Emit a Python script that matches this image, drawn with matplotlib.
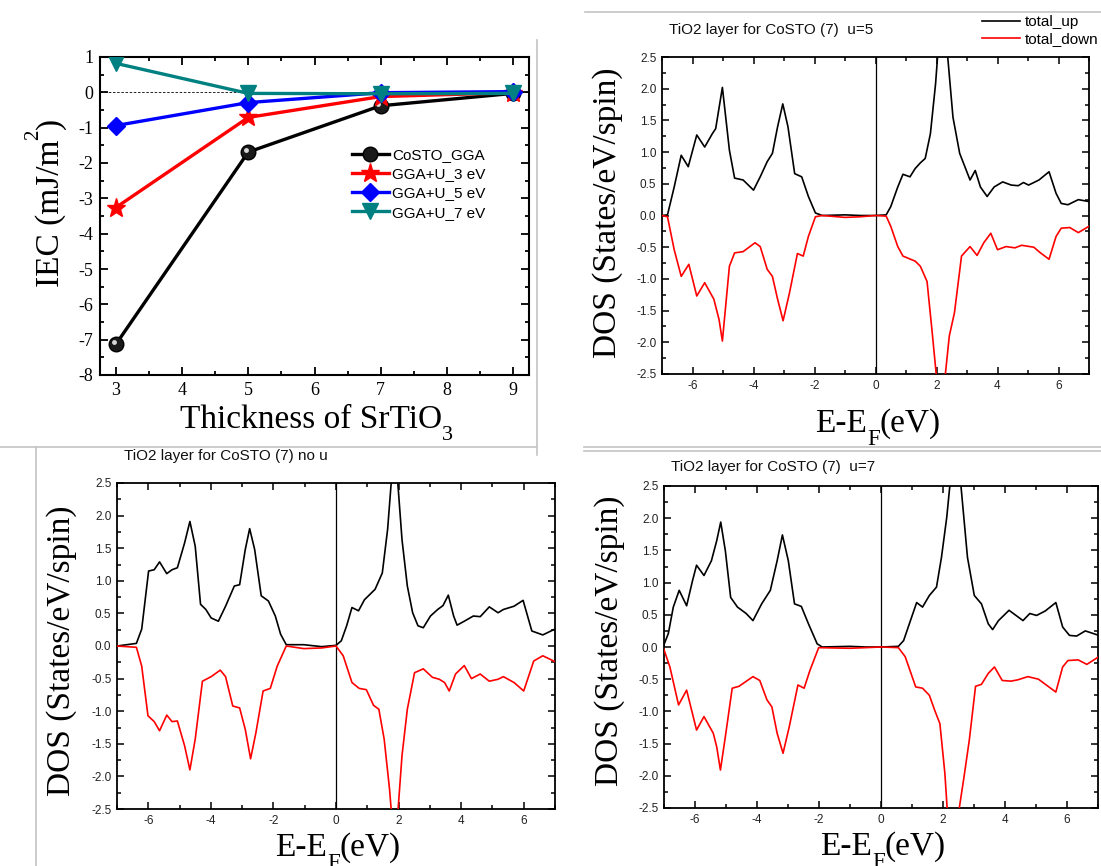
import matplotlib
matplotlib.use("Agg")
import matplotlib.pyplot as plt
from matplotlib.lines import Line2D
from matplotlib.ticker import MultipleLocator, FormatStrFormatter
import matplotlib.transforms as mtransforms

plt.rcParams['axes.unicode_minus'] = False

W, H = 1101, 866

# ---------------- IEC data ----------------
thickness = [3, 5, 7, 9]
iec_gga = [-7.13, -1.69, -0.38, -0.03]
iec_u3 = [-3.26, -0.71, -0.12, -0.01]
iec_u5 = [-0.94, -0.29, -0.01, 0.02]
iec_u7 = [0.82, -0.03, -0.04, -0.03]

# ---------------- DOS data (u=5) ----------------
e_u5_up = [-7.0, -6.82, -6.6, -6.37, -6.14, -5.86, -5.6, -5.35, -5.24, -5.02, -4.79, -4.62, -4.34, -4.0,
           -3.78, -3.55, -3.38, -3.21, -3.04, -2.87, -2.65, -2.42, -2.2, -1.97, -1.75, -1.0, -0.5, 0.0,
           0.35, 0.5, 0.73, 0.9, 1.13, 1.3, 1.47, 1.63, 1.8, 1.97, 2.05, 2.2, 2.35, 2.54, 2.76, 2.93,
           3.1, 3.27, 3.44, 3.66, 3.89, 4.17, 4.45, 4.68, 4.85, 5.02, 5.36, 5.69, 5.92, 6.09, 6.31,
           6.65, 7.0]
dos_u5_up = [0.0, 0.01, 0.45, 0.95, 0.77, 1.27, 1.08, 1.29, 1.37, 2.02, 1.03, 0.59, 0.56, 0.40,
             0.61, 0.85, 0.98, 1.40, 1.76, 1.40, 0.66, 0.61, 0.30, 0.04, 0.0, 0.01, 0.0, 0.0,
             0.01, 0.14, 0.45, 0.65, 0.61, 0.74, 0.83, 0.90, 1.29, 2.08, 2.6, 3.5, 2.6, 1.55, 0.98, 0.77,
             0.56, 0.71, 0.45, 0.30, 0.45, 0.53, 0.48, 0.47, 0.52, 0.48, 0.56, 0.69, 0.35, 0.19, 0.17,
             0.25, 0.22]
e_u5_dn = [-7.0, -6.82, -6.6, -6.37, -6.12, -5.86, -5.6, -5.3, -5.13, -5.02, -4.79, -4.62, -4.34, -3.95,
           -3.78, -3.55, -3.38, -3.21, -3.03, -2.82, -2.56, -2.37, -2.2, -1.97, -1.75, -1.0, -0.5, 0.0,
           0.35, 0.5, 0.73, 0.9, 1.3, 1.47, 1.69, 1.86, 2.0, 2.14, 2.28, 2.42, 2.59, 2.82, 3.1, 3.33,
           3.55, 3.78, 4.0, 4.28, 4.57, 4.79, 5.19, 5.41, 5.69, 5.92, 6.09, 6.37, 6.65, 7.0]
dos_u5_dn = [0.0, -0.02, -0.54, -0.96, -0.77, -1.27, -1.06, -1.32, -1.64, -1.98, -0.80, -0.59, -0.57, -0.43,
             -0.49, -0.85, -0.96, -1.32, -1.66, -1.22, -0.60, -0.64, -0.33, -0.02, 0.0, -0.03, -0.02, 0.0,
             -0.01, -0.17, -0.49, -0.64, -0.72, -0.80, -1.04, -1.85, -2.55, -3.2, -2.55, -1.90, -1.53, -0.64,
             -0.49, -0.63, -0.43, -0.28, -0.54, -0.49, -0.51, -0.47, -0.50, -0.59, -0.69, -0.33, -0.20,
             -0.19, -0.27, -0.17]

# ---------------- DOS data (no u) ----------------
e_nou_up = [-7.0, -6.38, -6.21, -5.99, -5.81, -5.64, -5.41, -5.24, -5.07, -4.84, -4.67, -4.5, -4.33, -4.16,
            -3.99, -3.76, -3.53, -3.25, -3.08, -2.9, -2.76, -2.6, -2.39, -2.16, -1.94, -1.77, -1.59, -1.03,
            -0.46, 0.0, 0.17, 0.34, 0.51, 0.72, 0.91, 1.25, 1.48, 1.65, 1.78, 1.87, 1.96, 2.11, 2.28, 2.45,
            2.62, 2.79, 3.02, 3.25, 3.42, 3.59, 3.76, 3.87, 4.1, 4.39, 4.61, 4.9, 5.18, 5.35, 5.69, 5.98,
            6.26, 6.61, 7.0]
dos_nou_up = [0.0, 0.04, 0.26, 1.15, 1.17, 1.29, 1.11, 1.17, 1.20, 1.58, 1.91, 1.53, 0.64, 0.56,
              0.43, 0.38, 0.61, 0.92, 0.94, 1.48, 1.80, 1.48, 0.77, 0.69, 0.46, 0.18, 0.02, 0.02,
              -0.01, 0.01, 0.08, 0.31, 0.59, 0.54, 0.71, 0.87, 1.12, 1.79, 2.6, 3.0, 2.6, 1.63, 0.92, 0.51,
              0.31, 0.28, 0.46, 0.56, 0.62, 0.78, 0.46, 0.32, 0.38, 0.46, 0.45, 0.60, 0.51, 0.56, 0.61, 0.70,
              0.23, 0.17, 0.26]
e_nou_dn = [-7.0, -6.38, -6.21, -6.01, -5.81, -5.64, -5.41, -5.24, -5.07, -4.84, -4.67, -4.5, -4.27, -3.99,
            -3.7, -3.53, -3.3, -3.08, -2.9, -2.73, -2.56, -2.33, -2.1, -1.88, -1.59, -1.03, -0.46, 0.0,
            0.23, 0.51, 0.74, 0.97, 1.2, 1.37, 1.54, 1.71, 1.78, 1.88, 1.97, 2.11, 2.28, 2.51, 2.79, 3.08,
            3.3, 3.47, 3.62, 3.82, 4.1, 4.33, 4.61, 4.9, 5.18, 5.35, 5.69, 6.0, 6.32, 6.61, 7.0]
dos_nou_dn = [0.0, -0.02, -0.31, -1.07, -1.16, -1.30, -1.06, -1.16, -1.15, -1.53, -1.90, -1.43, -0.54, -0.47,
              -0.37, -0.47, -0.92, -0.95, -1.28, -1.73, -1.33, -0.69, -0.65, -0.31, 0.0, -0.04, -0.03, 0.0,
              -0.15, -0.56, -0.65, -0.67, -0.91, -0.97, -1.43, -2.19, -2.6, -3.0, -2.6, -1.68, -0.97, -0.41,
              -0.35, -0.48, -0.51, -0.56, -0.69, -0.43, -0.30, -0.50, -0.43, -0.54, -0.51, -0.47, -0.56,
              -0.69, -0.23, -0.15, -0.24]

# ---------------- DOS data (u=7) ----------------
e_u7_up = [-7.03, -6.86, -6.7, -6.51, -6.27, -6.08, -5.95, -5.71, -5.47, -5.3, -5.17, -5.02, -4.85, -4.63,
           -4.35, -4.13, -3.85, -3.57, -3.35, -3.18, -2.99, -2.79, -2.57, -2.34, -2.06, -1.9, -1.0, -0.5,
           0.0, 0.56, 0.73, 0.95, 1.15, 1.34, 1.56, 1.79, 1.95, 2.12, 2.23, 2.4, 2.57, 2.79, 3.01, 3.24,
           3.46, 3.6, 3.79, 4.13, 4.58, 4.8, 5.02, 5.3, 5.64, 5.86, 6.08, 6.31, 6.59, 7.03]
dos_u7_up = [0.0, 0.21, 0.62, 0.88, 0.64, 1.03, 1.27, 1.11, 1.34, 1.65, 1.94, 1.49, 0.77, 0.62,
             0.52, 0.41, 0.67, 0.88, 1.34, 1.74, 1.34, 0.67, 0.63, 0.36, 0.05, 0.0, 0.01, 0.0,
             0.0, 0.01, 0.10, 0.41, 0.69, 0.62, 0.80, 0.93, 1.39, 2.01, 2.55, 3.3, 2.55, 1.39, 0.80, 0.67,
             0.36, 0.27, 0.41, 0.57, 0.41, 0.52, 0.49, 0.56, 0.69, 0.31, 0.18, 0.17, 0.25, 0.18]
e_u7_dn = [-7.03, -6.81, -6.53, -6.27, -5.95, -5.71, -5.41, -5.3, -5.18, -5.02, -4.8, -4.58, -4.13, -3.91,
           -3.68, -3.52, -3.35, -3.16, -2.96, -2.68, -2.48, -2.29, -2.01, -1.0, -0.5, 0.0, 0.56, 0.78,
           1.12, 1.34, 1.56, 1.73, 1.9, 2.06, 2.14, 2.32, 2.51, 2.68, 2.85, 3.05, 3.24, 3.46, 3.66, 3.91,
           4.19, 4.41, 4.74, 5.08, 5.36, 5.64, 5.86, 6.03, 6.36, 6.64, 7.03]
dos_u7_dn = [0.0, -0.31, -0.90, -0.67, -1.29, -1.08, -1.34, -1.55, -1.91, -1.39, -0.64, -0.61, -0.46, -0.52,
             -0.82, -0.93, -1.34, -1.65, -1.24, -0.59, -0.64, -0.36, -0.01, -0.02, -0.01, 0.0, -0.01, -0.15,
             -0.62, -0.64, -0.75, -0.98, -1.19, -1.96, -2.55, -3.3, -2.55, -2.01, -1.44, -0.61, -0.58, -0.41,
             -0.31, -0.52, -0.53, -0.51, -0.46, -0.50, -0.60, -0.70, -0.31, -0.21, -0.20, -0.27, -0.15]

SERIF = ['Liberation Serif', 'DejaVu Serif']
SANS = ['Liberation Sans', 'DejaVu Sans']

fig = plt.figure(figsize=(W / 100, H / 100), dpi=100)
renderer = fig.canvas.get_renderer()


def fx(x):
    return x / W


def fy(y):
    return 1 - y / H


def axes_px(left, top, right, bottom):
    return fig.add_axes([fx(left), fy(bottom), (right - left) / W, (bottom - top) / H])


def sep_line(x0, y0, x1, y1):
    fig.add_artist(Line2D([fx(x0), fx(x1)], [fy(y0), fy(y1)], transform=fig.transFigure,
                          color='#c4c4c4', lw=1.2))


def pieced_label(x0, base, parts, rotated=False):
    """parts: list of (text, size, shift_px); shift > 0 moves the piece below the baseline"""
    pos = 0.0
    for txt, size, shift in parts:
        if rotated:
            t = fig.text(fx(base + shift), fy(x0 - pos), txt, rotation=90, rotation_mode='anchor',
                         ha='left', va='baseline', family=SERIF, fontsize=size)
            pos += t.get_window_extent(renderer).height
        else:
            t = fig.text(fx(x0 + pos), fy(base + shift), txt, ha='left', va='baseline',
                         family=SERIF, fontsize=size)
            pos += t.get_window_extent(renderer).width


# panel separators (screenshot borders)
sep_line(585, 12, 1101, 12)
sep_line(537, 40, 537, 455)
sep_line(0, 447, 536, 447)
sep_line(36, 447, 36, 866)
sep_line(584, 447, 1101, 447)
sep_line(584, 451, 1101, 451)

# ================= IEC panel =================
ax = axes_px(100, 57, 529, 375)
ax.axhline(0, color='black', lw=0.6, ls=(0, (3, 2)), zorder=1)
ax.plot(thickness, iec_gga, '-o', color='black', lw=2.4, ms=10.5, mfc='#1a1a1a', mec='black',
        label='CoSTO_GGA', zorder=3)
hl = mtransforms.offset_copy(ax.transData, fig=fig, x=-1.6, y=1.6, units='points')
ax.plot(thickness, iec_gga, 'o', ms=3.5, color='#d8d8d8', mec='none', transform=hl, zorder=3.5)
ax.plot(thickness, iec_u3, '-*', color='red', lw=2.4, ms=14, label='GGA+U_3 eV', zorder=4)
ax.plot(thickness, iec_u5, '-D', color='blue', lw=2.4, ms=9, label='GGA+U_5 eV', zorder=5)
ax.plot(thickness, iec_u7, '-v', color='#008080', lw=2.4, ms=11, label='GGA+U_7 eV', zorder=6)
ax.set_xlim(2.76, 9.24)
ax.set_ylim(-8, 1)
ax.xaxis.set_major_locator(MultipleLocator(1))
ax.xaxis.set_minor_locator(MultipleLocator(0.5))
ax.yaxis.set_major_locator(MultipleLocator(1))
ax.yaxis.set_minor_locator(MultipleLocator(0.5))
ax.tick_params(which='both', direction='in', top=True, right=True, width=1.3)
ax.tick_params(which='major', length=5.5, labelsize=13, pad=5)
ax.tick_params(which='minor', length=3)
for lab in ax.get_xticklabels() + ax.get_yticklabels():
    lab.set_family(SERIF)
for s in ax.spines.values():
    s.set_linewidth(1.5)
ax.legend(loc='upper left', bbox_to_anchor=(fx(352), fy(148)), bbox_transform=fig.transFigure,
          frameon=False, prop={'family': SANS, 'size': 11}, handlelength=2.4,
          handletextpad=0.25, labelspacing=0.34, numpoints=1, borderpad=0, borderaxespad=0)
pieced_label(287, 59, [('IEC (mJ/m', 24, 0), ('2', 15, -21), (')', 24, 0)], rotated=True)
pieced_label(180, 428, [('Thickness of SrTiO', 24, 0), ('3', 16, 12)])


# ================= DOS panels =================
def dos_panel(box, e_up, d_up, e_dn, d_dn, title, title_xy, ylab_xy, xlab_xy):
    a = axes_px(*box)
    a.axvline(0, color='black', lw=0.9, zorder=1)
    a.plot(e_up, d_up, color='black', lw=1.2, label='total_up', zorder=3, solid_joinstyle='round')
    a.plot(e_dn, d_dn, color='red', lw=1.2, label='total_down', zorder=3, solid_joinstyle='round')
    a.set_xlim(-7, 7)
    a.set_ylim(-2.5, 2.5)
    a.xaxis.set_major_locator(MultipleLocator(2))
    a.xaxis.set_minor_locator(MultipleLocator(1))
    a.yaxis.set_major_locator(MultipleLocator(0.5))
    a.yaxis.set_minor_locator(MultipleLocator(0.25))
    a.yaxis.set_major_formatter(FormatStrFormatter('%.1f'))
    a.tick_params(which='both', direction='in', top=True, right=True, width=1.1)
    a.tick_params(which='major', length=5, labelsize=8.5, pad=4, labelcolor='#222222')
    a.tick_params(which='minor', length=3)
    for lab in a.get_xticklabels() + a.get_yticklabels():
        lab.set_family(SANS)
    for s in a.spines.values():
        s.set_linewidth(1.3)
    fig.text(fx(title_xy[0]), fy(title_xy[1]), title, ha='left', va='center',
             family=SANS, fontsize=11, color='#111111')
    fig.text(fx(ylab_xy[0]), fy(ylab_xy[1]), 'DOS (States/eV/spin)', rotation=90,
             ha='center', va='center', family=SERIF, fontsize=24)
    pieced_label(xlab_xy[0], xlab_xy[1], [('E-E', 24, 0), ('F', 16.5, 13), ('(eV)', 24, 0)])
    return a


a2 = dos_panel((662, 57, 1089, 374), e_u5_up, dos_u5_up, e_u5_dn, dos_u5_dn,
               'TiO2 layer for CoSTO (7)  u=5', (669, 30), (608, 213), (815, 432))
a2.legend(loc='upper left', bbox_to_anchor=(fx(982), fy(15)), bbox_transform=fig.transFigure,
          frameon=False, prop={'family': SANS, 'size': 11}, handlelength=2.5,
          handletextpad=0.3, labelspacing=0.2, borderpad=0, borderaxespad=0)

dos_panel((117, 483, 555, 809), e_nou_up, dos_nou_up, e_nou_dn, dos_nou_dn,
          'TiO2 layer for CoSTO (7) no u', (124, 456), (62, 651), (275, 856))

dos_panel((664, 486, 1098, 808), e_u7_up, dos_u7_up, e_u7_dn, dos_u7_dn,
          'TiO2 layer for CoSTO (7)  u=7', (671, 467), (610, 641), (820, 855))

fig.savefig('out.png', dpi=100)
